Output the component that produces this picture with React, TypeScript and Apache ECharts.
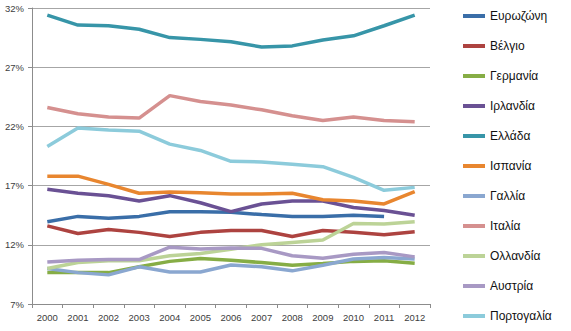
import React, { useEffect, useRef } from "react";
import * as echarts from "echarts";

const years = ["2000","2001","2002","2003","2004","2005","2006","2007","2008","2009","2010","2011","2012"];
const yTicks = [7, 12, 17, 22, 27, 32];

const seriesNames = ["Ευρωζώνη","Βέλγιο","Γερμανία","Ιρλανδία","Ελλάδα","Ισπανία","Γαλλία","Ιταλία","Ολλανδία","Αυστρία","Πορτογαλία"];
const colors = ["#3a6ea8","#ad4340","#86ad45","#6a5194","#3795a8","#e8862f","#8aa7d0","#d5908f","#bcd397","#a899c4","#8ccbdb"];

const eurozone = [13.95,14.4,14.25,14.4,14.8,14.8,14.75,14.55,14.4,14.4,14.5,14.4,null];
const belgium = [13.6,12.96,13.3,13.05,12.7,13.05,13.2,13.2,12.7,13.2,13.05,12.85,13.1];
const germany = [9.65,9.65,9.65,10.14,10.6,10.84,10.7,10.5,10.27,10.42,10.6,10.65,10.45];
const ireland = [16.7,16.35,16.15,15.7,16.15,15.55,14.8,15.45,15.7,15.7,15.15,14.9,14.5];
const greece = [31.4,30.56,30.5,30.2,29.5,29.35,29.15,28.7,28.8,29.3,29.65,30.5,31.4];
const spain = [17.8,17.8,17.1,16.35,16.45,16.4,16.3,16.3,16.35,15.8,15.7,15.45,16.5];
const france = [10.0,9.65,9.46,10.14,9.7,9.7,10.3,10.14,9.8,10.27,10.8,10.93,10.8];
const italy = [23.6,23.07,22.8,22.7,24.6,24.1,23.8,23.4,22.9,22.5,22.8,22.5,22.4];
const netherlands = [10.0,10.5,10.65,10.65,11.07,11.27,11.63,12.0,12.2,12.4,13.8,13.75,13.95];
const austria = [10.55,10.7,10.75,10.75,11.8,11.65,11.72,11.7,11.07,10.87,11.2,11.35,10.98];
const portugal = [20.3,21.86,21.7,21.6,20.5,19.97,19.05,19.0,18.8,18.6,17.7,16.6,16.85];

const seriesData = [eurozone,belgium,germany,ireland,greece,spain,france,italy,netherlands,austria,portugal];

export default function App() {
  const ref = useRef<HTMLDivElement>(null);
  useEffect(() => {
    if (!ref.current) return;
    const chart = echarts.init(ref.current, null, { renderer: "svg" });
    chart.setOption({
      animation: false,
      backgroundColor: "#ffffff",
      grid: { left: 32, right: 141, top: 8, bottom: 27, containLabel: false },
      xAxis: {
        type: "category",
        data: years,
        boundaryGap: true,
        axisLine: { show: true, lineStyle: { color: "#8c8c8c", width: 1 } },
        axisTick: { show: true, length: 4, lineStyle: { color: "#8c8c8c" } },
        axisLabel: { color: "#404040", fontSize: 9.5, fontFamily: "Liberation Sans", margin: 8 },
        splitLine: { show: false },
      },
      yAxis: {
        type: "value",
        min: yTicks[0],
        max: yTicks[yTicks.length - 1],
        interval: 5,
        axisLine: { show: true, lineStyle: { color: "#8c8c8c", width: 1 } },
        axisTick: { show: true, length: 4, lineStyle: { color: "#8c8c8c" } },
        axisLabel: { color: "#404040", fontSize: 9.5, fontFamily: "Liberation Sans", margin: 8, formatter: (v: number) => v + "%" },
        splitLine: { show: true, lineStyle: { color: "#a6a6a6", width: 1 } },
      },
      legend: {
        orient: "vertical",
        left: 458,
        top: 4,
        icon: "rect",
        itemWidth: 22,
        itemHeight: 4,
        itemGap: 16,
        data: seriesNames,
        textStyle: { color: "#111111", fontSize: 12, fontFamily: "Liberation Sans", lineHeight: 14 },
      },
      series: seriesNames.map((name, i) => ({
        name,
        type: "line",
        data: seriesData[i],
        showSymbol: false,
        symbol: "none",
        connectNulls: false,
        lineStyle: { width: 3.5, color: colors[i] },
        itemStyle: { color: colors[i] },
      })),
    });
    return () => chart.dispose();
  }, []);
  return <div ref={ref} style={{ width: 571, height: 331, position: "absolute", left: 0, top: 0 }} />;
}
